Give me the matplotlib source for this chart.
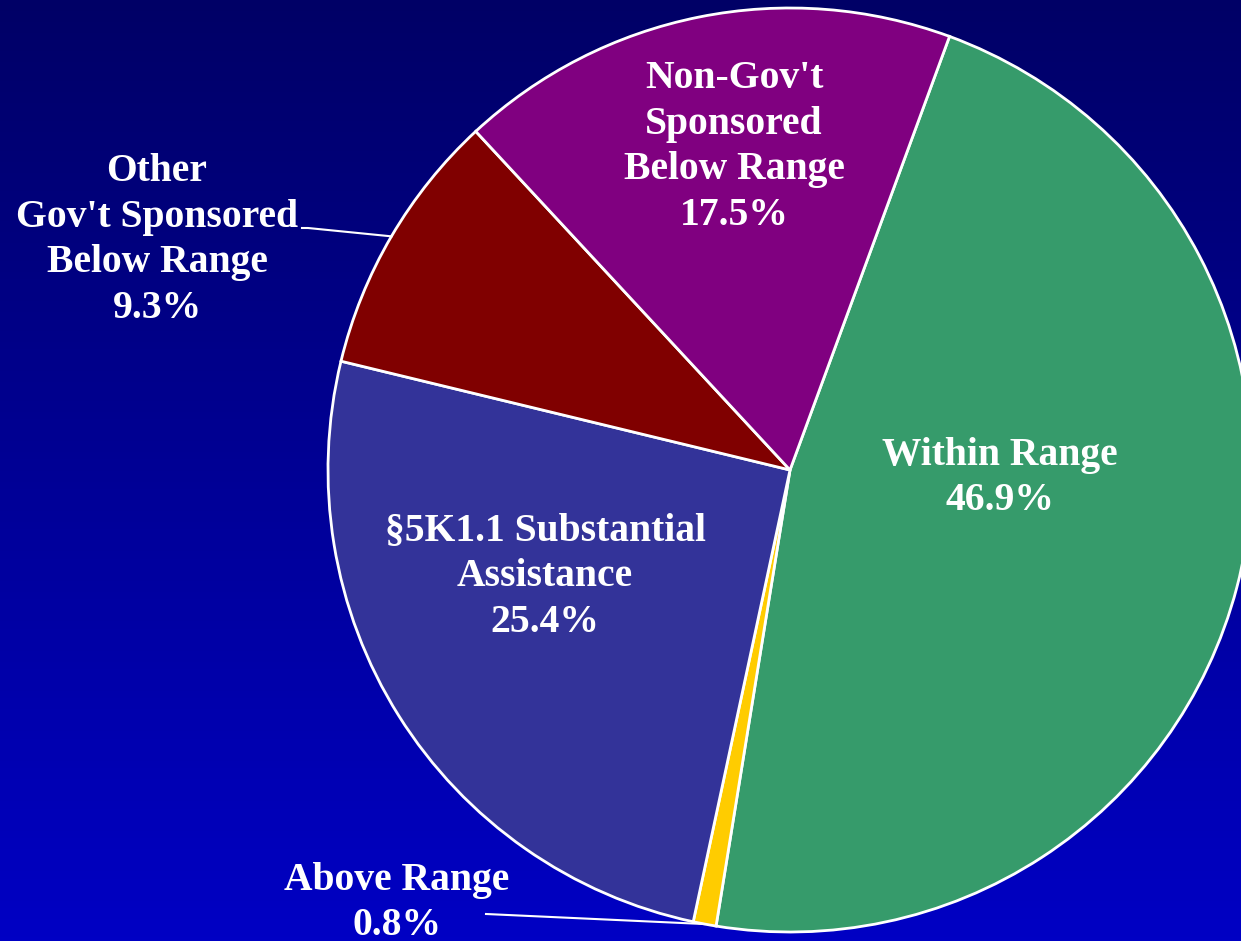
import numpy as np
import matplotlib.pyplot as plt
from matplotlib.colors import LinearSegmentedColormap

labels = ["Within Range", "Above Range", "§5K1.1 Substantial\nAssistance",
          "Other\nGov't Sponsored\nBelow Range", "Non-Gov't\nSponsored\nBelow Range"]
shares = [46.9, 0.8, 25.4, 9.3, 17.5]
colors = ["#369B6B", "#FFCC00", "#333399", "#800000", "#800080"]

W, H = 1241, 941
fig = plt.figure(figsize=(W / 100, H / 100), dpi=100)
ax = fig.add_axes([0, 0, 1, 1])

# background gradient, dark navy at top to bright blue at bottom
bg = LinearSegmentedColormap.from_list('bg', ['#0000C4', '#000066'])
grad = np.linspace(0, 1, 256).reshape(-1, 1)
ax.imshow(grad, cmap=bg, extent=[0, W, 0, H], origin='lower', aspect='auto', zorder=0)

cx, cy, r = 790, H - 470, 462
wedges, _ = ax.pie(shares, colors=colors, startangle=69.8, counterclock=False,
                   center=(cx, cy), radius=r, frame=True,
                   wedgeprops=dict(edgecolor='white', linewidth=2))
for w in wedges:
    w.set_zorder(2)
ax.set_xlim(0, W)
ax.set_ylim(0, H)
ax.set_aspect('auto')
ax.axis('off')

font = dict(family='Liberation Serif', weight='bold', color='white', fontsize=28.5,
            ha='center', va='center', linespacing=1.3, zorder=5)

# label centres in pixels (from top)
pos = [(1000, 478), (397, 903), (545, 577), (157, 240), (734, 147)]
for lab, val, (x, y) in zip(labels, shares, pos):
    ax.text(x, H - y, f"{lab}\n{val}%", **font)

# leader lines for the two outside labels
def edge_point(w):
    a = np.deg2rad((w.theta1 + w.theta2) / 2)
    return cx + r * np.cos(a), cy + r * np.sin(a)

ex, ey = edge_point(wedges[3])
ax.plot([302, 308, ex], [H - 228, H - 228, ey], color='white', lw=1.5, zorder=4)
ex, ey = edge_point(wedges[1])
ax.plot([486, ex], [H - 914, ey], color='white', lw=1.5, zorder=4)

fig.savefig('out.png', dpi=100)
